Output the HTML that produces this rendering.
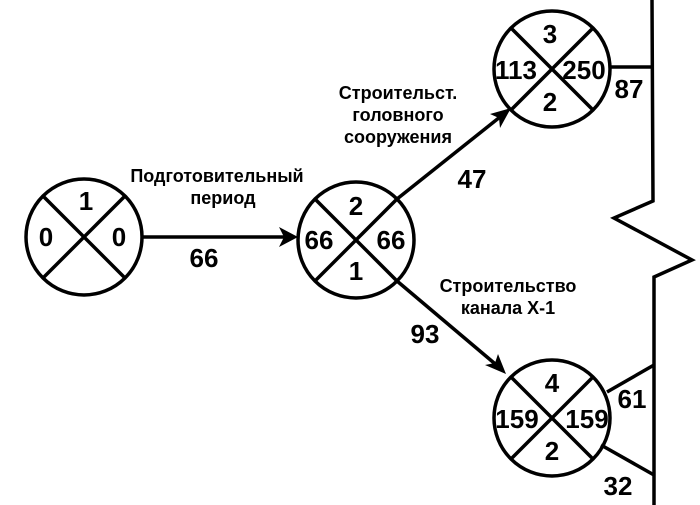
<!DOCTYPE html>
<html><head><meta charset="utf-8"><style>
html,body{margin:0;padding:0;background:#fff;}
svg{display:block;}
text{font-family:"Liberation Sans",Arial,sans-serif;font-weight:bold;fill:#000;}
.n{font-size:26px;}
.l{font-size:18px;}
</style></head><body>
<svg width="700" height="505" viewBox="0 0 700 505" xmlns="http://www.w3.org/2000/svg">
<g stroke="#000" stroke-width="3.5" fill="none">
<circle cx="84" cy="237" r="58"/>
<line x1="43" y1="196" x2="125" y2="278"/><line x1="125" y1="196" x2="43" y2="278"/>
<circle cx="356" cy="240" r="58"/>
<line x1="315" y1="199" x2="397" y2="281"/><line x1="397" y1="199" x2="315" y2="281"/>
<circle cx="552" cy="69" r="58"/>
<line x1="511" y1="28" x2="593" y2="110"/><line x1="593" y1="28" x2="511" y2="110"/>
<circle cx="552" cy="418" r="58"/>
<line x1="511" y1="377" x2="593" y2="459"/><line x1="593" y1="377" x2="511" y2="459"/>
<line x1="142" y1="237" x2="292" y2="237"/>
<line x1="397" y1="199" x2="505" y2="113"/>
<line x1="397" y1="281" x2="500" y2="368"/>
<polyline points="652,0 653,201 614,218 692,260 654,277 654,505"/>
<line x1="610" y1="67" x2="653" y2="67"/>
<line x1="607" y1="392" x2="654" y2="365"/>
<line x1="601" y1="445" x2="654" y2="475"/>
</g>
<g fill="#000">
<polygon points="298,237 279,227 284,237 279,247"/>
<polygon points="511,108 490,114 499,118 500,128"/>
<polygon points="506,374 498,354 495,363 485,365"/>
</g>
<g class="n" text-anchor="middle">
<text x="86" y="210">1</text><text x="46" y="246">0</text><text x="119" y="246">0</text>
<text x="356" y="215">2</text><text x="319" y="249">66</text><text x="391" y="249">66</text><text x="356" y="280">1</text>
<text x="550" y="43">3</text><text x="516" y="79">113</text><text x="584" y="79">250</text><text x="550" y="111">2</text>
<text x="552" y="392">4</text><text x="517" y="428">159</text><text x="587" y="428">159</text><text x="552" y="460">2</text>
<text x="204" y="267">66</text><text x="472" y="188">47</text><text x="425" y="343">93</text>
<text x="629" y="98">87</text><text x="632" y="408">61</text><text x="618" y="495">32</text>
</g>
<g class="l" text-anchor="middle">
<text x="217" y="182">Подготовительный</text><text x="223" y="204">период</text>
<text x="398" y="99">Строительст.</text><text x="398" y="121">головного</text><text x="398" y="143">сооружения</text>
<text x="508" y="292">Строительство</text><text x="508" y="314">канала Х-1</text>
</g>
</svg>
</body></html>
